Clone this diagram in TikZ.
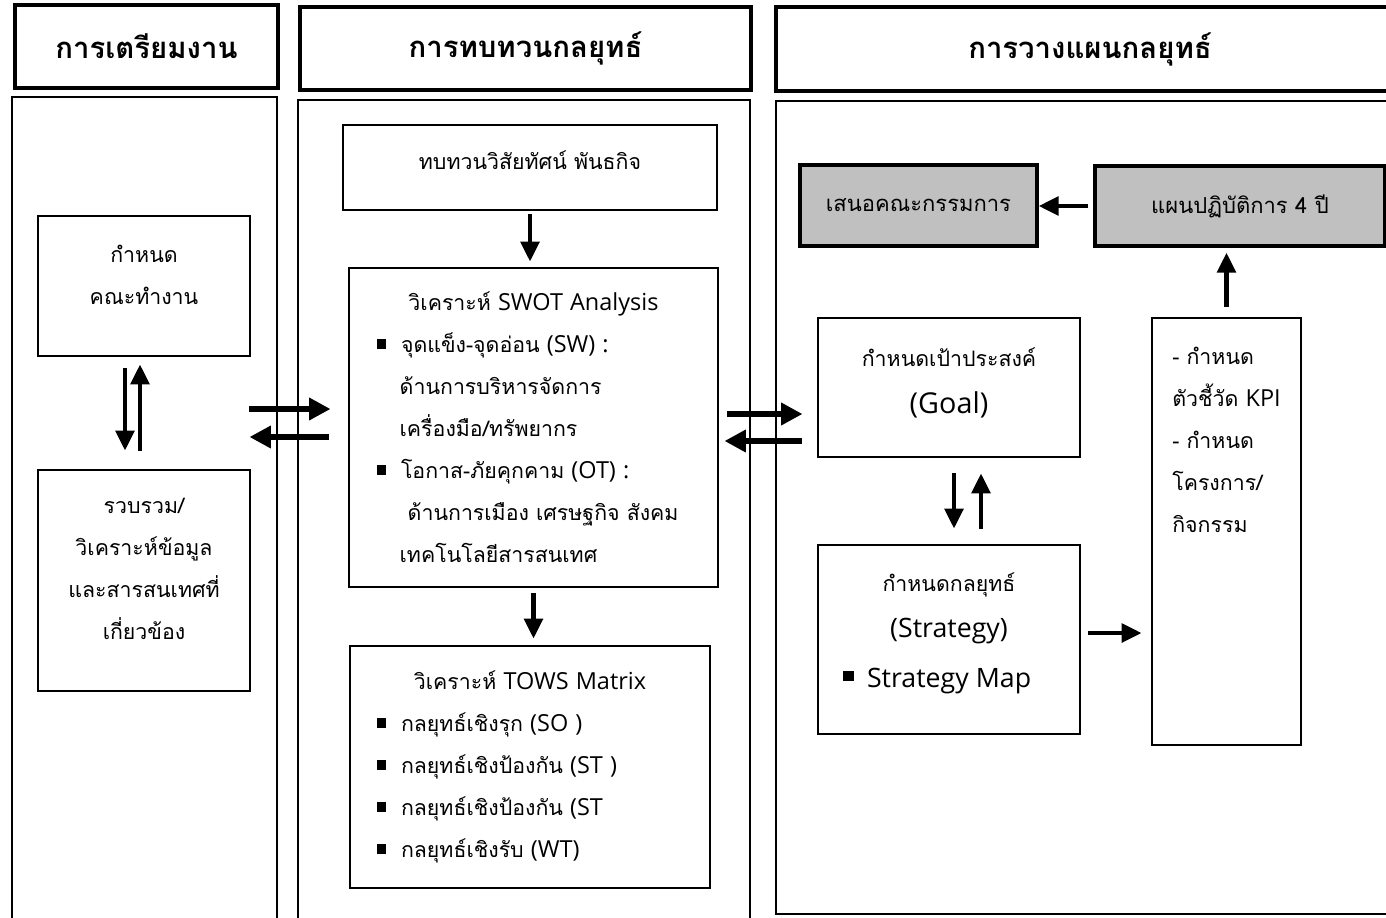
\documentclass[tikz,border=0pt]{standalone}
\usepackage{fontspec}
\setmainfont[Script=Thai]{Loma}
\newfontfamily\latfont[Scale=1.1]{Open Sans}
\usetikzlibrary{arrows.meta}
\definecolor{boxgray}{RGB}{192,192,192}
\newcommand{\lat}[1]{{\latfont #1}}
\newcommand{\biglat}[1]{{\fontsize{18.2}{31}\selectfont\latfont #1}}
\newcommand{\bul}{\rule[3pt]{7pt}{7pt}\hspace{11pt}}
\newcommand{\bigbul}{\rule[5pt]{8pt}{8pt}\hspace{10pt}}
\newcommand{\pushup}[1]{\rule[-#1]{0pt}{0pt}}

\tikzset{
  hdr/.style={draw, line width=2.6pt, inner sep=0pt, font=\fontsize{22}{26}\selectfont\bfseries},
  panel/.style={draw, line width=2.2pt, inner sep=0pt},
  box/.style={draw, line width=2.2pt, inner sep=0pt, font=\fontsize{16}{31.5}\selectfont},
  graybox/.style={box, fill=boxgray, line width=2.6pt, font=\fontsize{16.5}{20}\selectfont},
  fatarrow/.style={line width=4.9pt, -{Triangle[length=16pt,width=16pt]}},
  arrow/.style={line width=3.2pt, -{Triangle[length=15pt,width=14pt]}},
}

\begin{document}
\begin{tikzpicture}[x=0.75pt, y=-0.75pt]
\useasboundingbox (0,0) rectangle (1386,918);
\clip (0,0) rectangle (1386,918);
\fill[white] (0,0) rectangle (1386,918);

% headers
\node[hdr, minimum width=197.25pt, minimum height=62.25pt] (prep) at (146.5,46.5) {การเตรียมงาน};
\node[hdr, minimum width=338.25pt, minimum height=62.25pt] (review) at (525.5,48.5) {การทบทวนกลยุทธ์};
\node[hdr, minimum width=471pt, minimum height=63pt] (planning) at (1090,49) {การวางแผนกลยุทธ์};

% panels
\node[panel, minimum width=198.75pt, minimum height=624.75pt] (p1) at (144.5,513.5) {};
\node[panel, minimum width=339pt, minimum height=622.5pt] (p2) at (524,515) {};
\node[panel, minimum width=471pt, minimum height=609.75pt] (p3) at (1090,507.5) {};

% preparation
\node[box, align=center, minimum width=159pt, minimum height=105pt] (team) at (144,286)
  {กำหนด\\คณะทำงาน\pushup{17pt}};
\node[box, align=center, minimum width=159pt, minimum height=165.75pt] (collect) at (144,580.5)
  {รวบรวม/\\วิเคราะห์ข้อมูล\\และสารสนเทศที่\\เกี่ยวข้อง\pushup{17pt}};

% review
\node[box, align=center, minimum width=280.5pt, minimum height=63.75pt] (vision) at (530,167.5)
  {ทบทวนวิสัยทัศน์ พันธกิจ\pushup{11pt}};
\node[box, align=left, text width=234.75pt, minimum width=276.75pt, minimum height=239.25pt] (swot) at (533.5,427.5)
  {{\centering วิเคราะห์ \lat{SWOT Analysis}\par}
   \bul จุดแข็ง-จุดอ่อน \lat{(SW) :}\\
   \hspace*{17pt}ด้านการบริหารจัดการ\\
   \hspace*{17pt}เครื่องมือ/ทรัพยากร\\
   \bul โอกาส-ภัยคุกคาม \lat{(OT) :}\\
   \hspace*{23pt}ด้านการเมือง เศรษฐกิจ สังคม\\
   \hspace*{17pt}เทคโนโลยีสารสนเทศ};
\node[box, align=left, text width=229.5pt, minimum width=270pt, minimum height=181.5pt] (tows) at (530,767)
  {{\centering วิเคราะห์ \lat{TOWS Matrix}\par}
   \bul กลยุทธ์เชิงรุก \lat{(SO )}\\
   \bul กลยุทธ์เชิงป้องกัน \lat{(ST )}\\
   \bul กลยุทธ์เชิงป้องกัน \lat{(ST}\\
   \bul กลยุทธ์เชิงรับ \lat{(WT)}};

% planning
\node[graybox, minimum width=177.75pt, minimum height=60.75pt] (present) at (918.5,205.5) {เสนอคณะกรรมการ};
\node[graybox, minimum width=217.5pt, minimum height=60pt] (plan) at (1240,206) {แผนปฏิบัติการ 4 ปี};
\node[box, align=center, minimum width=196.5pt, minimum height=104.25pt] (goal) at (949,387.5)
  {กำหนดเป้าประสงค์\\[4pt]{\fontsize{19.6}{31}\selectfont\latfont (Goal)}\pushup{10pt}};
\node[box, align=left, text width=159pt, minimum width=196.5pt, minimum height=141.75pt] (strat) at (949,639.5)
  {{\centering กำหนดกลยุทธ์\\[3pt]\biglat{(Strategy)}\par}
   \vspace{6pt}\biglat{\bigbul Strategy Map}\pushup{13.5pt}};
\node[box, align=left, minimum width=111.75pt, minimum height=320.25pt] (kpi) at (1226.5,531.5)
  {- กำหนด\\ตัวชี้วัด \lat{KPI}\\- กำหนด\\โครงการ/\\กิจกรรม\pushup{137pt}};

% connectors
\draw[arrow, shorten <=8.25pt, shorten >=13.5pt] ([xshift=-14.25pt]team.south) -- ([xshift=-14.25pt]collect.north);
\draw[arrow, shorten <=13.5pt, shorten >=5.25pt] ([xshift=-3pt]collect.north) -- ([xshift=-3pt]team.south);

\coordinate (lr) at (0,409);
\coordinate (rl) at (0,437);
\draw[fatarrow, shorten <=-1.5pt, shorten >=12.75pt] (lr -| collect.east) -- (lr -| swot.west);
\draw[fatarrow, shorten <=14.25pt, shorten >=-1.5pt] (rl -| swot.west) -- (rl -| collect.east);

\draw[arrow, shorten <=2.25pt, shorten >=3.75pt] (vision.south) -- (vision.south |- swot.north);
\draw[arrow, shorten <=3.75pt, shorten >=4.5pt] (swot.south) -- (swot.south |- tows.north);

\coordinate (lr2) at (0,414);
\coordinate (rl2) at (0,441);
\draw[fatarrow, shorten <=6pt, shorten >=10.5pt] (lr2 -| swot.east) -- (lr2 -| goal.west);
\draw[fatarrow, shorten <=11.25pt, shorten >=3.75pt] (rl2 -| goal.west) -- (rl2 -| swot.east);

\draw[arrow, shorten <=3.75pt, shorten >=0pt] (plan.west) -- (plan.west -| present.east);
\draw[arrow, shorten <=11.25pt, shorten >=11.25pt] ([xshift=3.75pt]goal.south) -- ([xshift=3.75pt]strat.north);
\draw[arrow, shorten <=11.25pt, shorten >=11.25pt] ([xshift=24pt]strat.north) -- ([xshift=24pt]goal.south);
\coordinate (sk) at (0,633);
\draw[arrow, shorten <=5.25pt, shorten >=6.75pt] (sk -| strat.east) -- (sk -| kpi.west);
\draw[arrow, shorten <=7.5pt, shorten >=3.75pt] (kpi.north) -- (kpi.north |- plan.south);
\end{tikzpicture}
\end{document}
